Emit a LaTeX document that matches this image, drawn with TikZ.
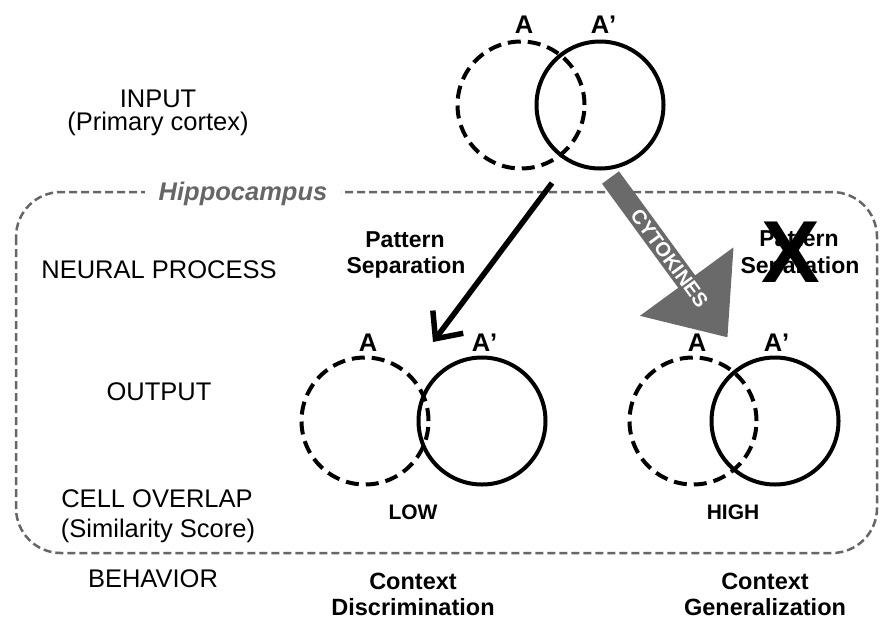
\documentclass[tikz,border=0pt]{standalone}
\usepackage{fontspec}
\setmainfont{Liberation Sans}
\usetikzlibrary{arrows.meta}
\definecolor{boxgray}{RGB}{102,102,102}
\definecolor{arrowgray}{RGB}{106,106,106}
\begin{document}
\begin{tikzpicture}[x=1pt,y=-1pt,
  lbl/.style={font=\fontsize{25.5}{30}\selectfont, anchor=base, inner sep=0pt},
  blbl/.style={font=\bfseries\fontsize{23}{26}\selectfont, anchor=base, inner sep=0pt},
  albl/.style={font=\bfseries\fontsize{25.5}{30}\selectfont, anchor=base, inner sep=0pt},
  clbl/.style={font=\bfseries\fontsize{23.5}{28}\selectfont, anchor=base, inner sep=0pt},
  solidcirc/.style={circle, draw, line width=4pt, minimum size=127pt, inner sep=0pt},
  dashcirc/.style={solidcirc, dash pattern=on 13pt off 7pt},
  hipbox/.style={draw=boxgray, line width=2.5pt, dash pattern=on 8pt off 4pt, rounded corners=45pt}
]
\useasboundingbox (0,0) rectangle (880,619);

% Hippocampus box
\draw[hipbox] (16,192) rectangle (877,553);
\node[font=\bfseries\itshape\fontsize{25.5}{30}\selectfont, text=boxgray, fill=white,
      inner xsep=14pt, inner ysep=4pt, anchor=base] (hip) at (243,200) {Hippocampus};

% circles
\node[dashcirc]  (inA)  at (521,105) {};
\node[solidcirc] (inB)  at (600,105) {};
\node[dashcirc]  (loA)  at (365,421) {};
\node[solidcirc] (loB)  at (482,421) {};
\node[dashcirc]  (hiA)  at (693,421) {};
\node[solidcirc] (hiB)  at (775,421) {};

% A labels
\node[albl] (tA)  at (524,33)  {A};
\node[albl] (tB)  at (600,33)  {A\rlap{’}};
\node[albl] (lA)  at (368,351) {A};
\node[albl] (lB)  at (481,351) {A\rlap{’}};
\node[albl] (hA)  at (697,351) {A};
\node[albl] (hB)  at (773,351) {A\rlap{’}};

% black arrow (pattern separation)
\coordinate (bs) at (552,183);
\coordinate (be) at (433,342);
\draw[line width=5.5pt, -{Straight Barb[length=21pt,width=38pt]}] (bs) -- (be);

% gray cytokines arrow
\begin{scope}[shift={(610.5,177.5)}, rotate=-53.8]
  \fill[arrowgray] (0,10.5) -- (129,10.5) -- (129,58) -- (198,0) -- (129,-58)
        -- (129,-10.5) -- (0,-10.5) -- cycle;
\end{scope}
\node[font=\bfseries\fontsize{20}{22}\selectfont, text=white, rotate=-53.8, inner sep=0pt]
      (cyto) at (669.5,258.5) {CYTOKINES};

% pattern separation labels
\node[blbl] (ps1) at (405,247) {Pattern};
\node[blbl] (ps2) at (406,273) {Separation};
\node[blbl] (ps3) at (799,246) {Pattern};
\node[blbl] (ps4) at (800,273) {Separation};
\node[font=\bfseries\fontsize{88}{88}\selectfont, inner sep=0pt] (cross) at (791,252) {X};

% left column labels
\node[lbl] (in1) at (158,107) {INPUT};
\node[lbl] (in2) at (158,130) {(Primary cortex)};
\node[lbl] (np)  at (159,278) {NEURAL PROCESS};
\node[lbl] (out) at (159,400) {OUTPUT};
\node[lbl] (co1) at (157,507) {CELL OVERLAP};
\node[lbl] (co2) at (158,537) {(Similarity Score)};
\node[lbl] (beh) at (153,587) {BEHAVIOR};

% overlap values
\node[font=\bfseries\fontsize{21}{25}\selectfont, anchor=base, inner sep=0pt] (low)  at (413,519) {LOW};
\node[font=\bfseries\fontsize{21}{25}\selectfont, anchor=base, inner sep=0pt] (high) at (733,519) {HIGH};

% behavior
\node[clbl] (cd1) at (413,589) {Context};
\node[clbl] (cd2) at (413,615) {Discrimination};
\node[clbl] (cg1) at (765,589) {Context};
\node[clbl] (cg2) at (765,615) {Generalization};
\end{tikzpicture}
\end{document}
